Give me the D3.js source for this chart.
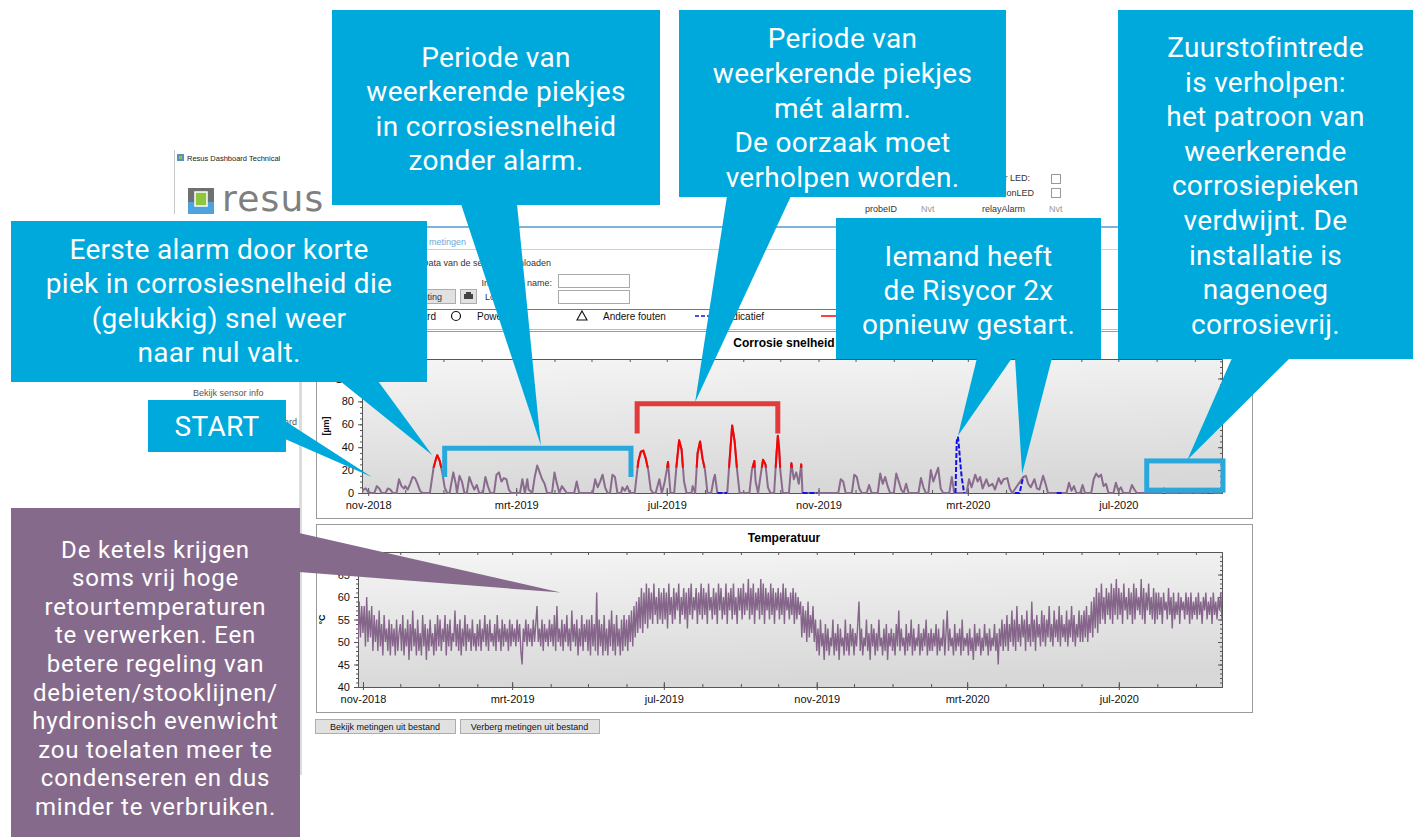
<!DOCTYPE html>
<html><head><meta charset="utf-8">
<script src="https://cdn.jsdelivr.net/npm/d3@7"></script>
<style>
body{margin:0;background:#fff;overflow:hidden}
svg{display:block}
</style>
</head><body>
<svg id="c" width="1421" height="838"></svg>
<script>
// ---------------- DATA ----------------
const xTickDates = ["2018-11-01","2019-03-01","2019-07-01","2019-11-01","2020-03-01","2020-07-01"];
const corrDomain = ["2018-10-27","2020-09-23"];
const tempDomain = ["2018-10-28","2020-09-22"];
const corrTicks = [0,20,40,60,80,100];
const tempTicks = [40,45,50,55,60,65];

// corrosion rate [date, value]
const corrosie = [
["2018-10-27",0],["2018-10-28",3],["2018-10-30",4],["2018-11-01",1],["2018-11-03",0],
["2018-11-06",0],["2018-11-08",6],["2018-11-10",4],["2018-11-12",0],
["2018-11-15",0],["2018-11-17",4],["2018-11-19",3],["2018-11-21",0],
["2018-11-24",0],["2018-11-26",12],["2018-11-28",6],["2018-11-30",4],["2018-12-01",6],["2018-12-03",3],["2018-12-05",8],["2018-12-07",14],["2018-12-09",13],["2018-12-11",8],["2018-12-13",2],["2018-12-15",0],
["2018-12-21",0],["2018-12-24",22],["2018-12-26",30],["2018-12-27",33],["2018-12-29",28],["2018-12-31",18],["2019-01-02",5],["2019-01-04",0],
["2019-01-06",0],["2019-01-09",18],["2019-01-11",8],["2019-01-12",0],["2019-01-14",15],["2019-01-16",10],["2019-01-18",0],
["2019-01-20",0],["2019-01-22",14],["2019-01-24",8],["2019-01-26",3],["2019-01-28",7],["2019-01-30",0],
["2019-02-02",0],["2019-02-04",14],["2019-02-06",6],["2019-02-08",0],
["2019-02-11",0],["2019-02-13",16],["2019-02-15",18],["2019-02-17",10],["2019-02-19",13],["2019-02-21",12],["2019-02-23",3],["2019-02-25",0],
["2019-03-04",0],["2019-03-06",12],["2019-03-08",0],["2019-03-10",12],["2019-03-11",3],["2019-03-14",0],["2019-03-16",14],["2019-03-18",24],["2019-03-20",18],["2019-03-22",12],["2019-03-24",8],["2019-03-26",0],
["2019-03-30",0],["2019-04-01",18],["2019-04-03",8],["2019-04-05",0],["2019-04-07",6],["2019-04-09",3],["2019-04-11",0],
["2019-04-17",0],["2019-04-19",10],["2019-04-21",0],
["2019-05-02",0],["2019-05-04",12],["2019-05-06",5],["2019-05-08",10],["2019-05-10",16],["2019-05-12",5],["2019-05-14",0],
["2019-05-16",0],["2019-05-18",16],["2019-05-20",14],["2019-05-22",0],
["2019-05-25",0],["2019-05-26",5],["2019-05-28",2],["2019-05-30",6],["2019-06-01",0],
["2019-06-05",0],["2019-06-08",28],["2019-06-10",36],["2019-06-12",37],["2019-06-14",30],["2019-06-16",20],["2019-06-18",3],["2019-06-20",0],
["2019-06-22",0],["2019-06-25",12],["2019-06-27",0],["2019-06-29",8],["2019-07-01",20],["2019-07-02",27],["2019-07-04",0],
["2019-07-07",0],["2019-07-09",25],["2019-07-11",46],["2019-07-13",38],["2019-07-15",10],["2019-07-17",0],
["2019-07-21",0],["2019-07-22",6],["2019-07-24",0],["2019-07-26",35],["2019-07-28",45],["2019-07-30",30],["2019-08-01",20],["2019-08-03",0],
["2019-08-06",0],["2019-08-08",12],["2019-08-09",16],["2019-08-11",0],
["2019-08-19",0],["2019-08-21",30],["2019-08-23",59],["2019-08-25",45],["2019-08-27",20],["2019-08-29",0],
["2019-09-06",0],["2019-09-08",20],["2019-09-10",28],["2019-09-11",10],["2019-09-13",0],["2019-09-15",15],["2019-09-17",29],["2019-09-19",25],["2019-09-21",5],["2019-09-23",0],
["2019-09-26",0],["2019-09-28",35],["2019-09-29",50],["2019-09-30",40],["2019-10-01",20],["2019-10-03",0],
["2019-10-08",0],["2019-10-10",26],["2019-10-12",12],["2019-10-14",18],["2019-10-16",8],["2019-10-18",25],["2019-10-19",0],
["2019-11-17",0],["2019-11-19",12],["2019-11-21",10],["2019-11-23",0],
["2019-11-28",0],["2019-11-30",16],["2019-12-02",14],["2019-12-04",4],["2019-12-06",0],
["2019-12-10",0],["2019-12-12",7],["2019-12-14",0],
["2019-12-19",0],["2019-12-21",17],["2019-12-23",8],["2019-12-25",14],["2019-12-27",6],["2019-12-29",0],
["2020-01-01",0],["2020-01-03",17],["2020-01-05",10],["2020-01-07",3],["2020-01-09",0],["2020-01-11",8],["2020-01-13",0],
["2020-01-21",0],["2020-01-23",13],["2020-01-25",5],["2020-01-27",0],
["2020-01-29",0],["2020-01-31",20],["2020-02-02",10],["2020-02-04",16],["2020-02-06",22],["2020-02-08",4],["2020-02-10",0],
["2020-02-15",0],["2020-02-17",14],["2020-02-19",0],
["2020-02-29",0],["2020-03-02",12],["2020-03-04",5],["2020-03-07",16],["2020-03-09",10],["2020-03-11",14],["2020-03-13",4],["2020-03-16",12],["2020-03-18",6],["2020-03-21",8],["2020-03-23",3],["2020-03-26",13],["2020-03-28",8],["2020-03-30",12],["2020-04-02",13],["2020-04-04",4],["2020-04-06",0],
["2020-04-15",14],["2020-04-17",15],["2020-04-19",8],["2020-04-21",5],["2020-04-24",12],["2020-04-26",4],["2020-04-28",3],["2020-05-01",15],["2020-05-03",8],["2020-05-05",0],
["2020-05-20",0],["2020-05-22",9],["2020-05-24",2],["2020-05-26",6],["2020-05-28",0],
["2020-05-31",0],["2020-06-02",7],["2020-06-04",0],
["2020-06-09",0],["2020-06-11",12],["2020-06-13",17],["2020-06-15",14],["2020-06-17",16],["2020-06-19",6],["2020-06-21",8],["2020-06-23",0],
["2020-06-27",0],["2020-06-29",9],["2020-07-01",2],["2020-07-03",5],["2020-07-05",0],
["2020-07-10",0],["2020-07-12",7],["2020-07-14",3],["2020-07-16",0],
["2020-08-05",0],["2020-08-07",4],["2020-08-09",0],
["2020-08-18",0],["2020-08-19",1],["2020-08-21",0],
["2020-08-29",0],["2020-08-30",1],["2020-09-01",0],
["2020-09-06",0],["2020-09-07",1],["2020-09-09",0],["2020-09-13",1],["2020-09-15",2],["2020-09-17",0],["2020-09-23",0]
];

// alarm periods (red) and alarm level
const alarmPeriods = [["2018-12-20","2019-01-03"],["2019-06-01","2019-10-20"]];
const alarmLevel = 22;

// indicative (blue dashed) segments
const indicatief = [
  [["2019-08-11",0],["2019-08-19",0]],
  [["2019-10-19",0],["2019-10-31",0]],
  [["2020-02-20",0],["2020-02-21",45],["2020-02-22",49],["2020-02-23",38],["2020-02-24",25],["2020-02-25",14],["2020-02-27",0]],
  [["2020-04-08",0],["2020-04-12",0],["2020-04-14",10],["2020-04-15",14]],
  [["2020-05-12",0],["2020-05-17",0]]
];

// temperature, one reading per day from tempStart
const tempStart = "2018-10-27";
const tempStepDays = 1;
const temperatuur = [
57,50,59,51,58,
52,58,49,60,50,57,51,58,48,56,50,55,48,57,49,54,47,56,50,53,48,55,47,54,49,53,47,55,48,52,
54,48,56,47,53,49,55,46,54,48,57,49,53,47,55,48,52,47,56,49,54,46,53,48,55,49,52,47,54,48,56,
49,55,48,53,50,56,47,54,49,55,48,52,50,57,49,54,48,55,47,53,49,56,48,54,50,53,48,55,49,52,48,
54,49,55,48,53,50,56,49,54,48,55,50,52,49,54,48,56,50,53,48,55,49,54,50,53,48,55,49,
54,50,53,49,55,50,54,48,45,53,50,55,49,54,50,53,49,55,50,54,58,50,53,49,55,48,54,50,53,49,55,
50,54,49,56,48,58,50,53,49,55,48,54,50,56,49,53,48,57,50,54,49,55,47,53,49,56,48,54,50,55,
48,55,47,56,49,54,48,61,47,55,49,54,47,56,48,53,47,55,49,57,48,54,47,56,49,53,47,55,48,56,49,
55,48,56,50,57,49,58,51,59,52,60,53,62,52,61,54,63,53,62,55,61,54,63,56,60,54,62,55,61,54,
62,55,61,53,63,56,60,54,62,55,61,57,63,54,60,56,62,55,61,53,62,56,63,55,60,57,62,54,61,56,63,
55,62,56,61,54,63,57,60,55,62,56,61,54,63,57,62,55,60,56,63,54,61,57,62,55,63,56,60,54,62,57,
62,55,63,56,61,57,64,55,62,56,63,54,61,57,62,55,64,56,63,54,62,57,61,55,63,56,62,54,61,57,
62,55,61,56,63,54,62,57,60,55,61,56,62,54,61,55,60,56,59,51,58,52,57,50,59,51,56,52,58,50,55,
48,53,47,55,49,52,46,54,48,53,47,51,49,55,47,52,48,54,46,53,49,51,47,55,48,52,47,54,49,53,
47,52,49,54,59,48,53,47,51,49,55,48,52,46,54,49,53,47,52,48,55,49,51,47,53,48,54,46,52,49,53,
48,52,47,54,49,57,48,53,49,51,47,54,48,52,49,55,47,53,48,51,49,54,47,52,48,53,49,55,47,52,48,
53,48,52,49,54,47,53,48,51,49,55,47,52,57,48,53,49,51,47,54,48,52,49,53,47,55,48,51,49,
52,47,53,48,51,46,54,48,52,49,53,47,51,48,54,49,52,47,53,48,51,49,54,48,52,45,53,49,55,48,54,
49,56,48,54,50,57,49,55,48,58,50,54,49,56,51,55,48,57,50,54,49,59,50,55,48,56,51,54,49,57,
50,56,49,55,51,58,50,54,49,57,51,55,50,58,49,56,51,54,50,57,49,55,51,58,50,56,49,54,51,57,50,
56,50,57,51,58,50,56,52,59,51,60,53,62,52,61,54,63,55,60,54,62,56,61,55,63,54,62,56,64,55,
62,56,61,54,63,57,60,55,62,56,61,54,63,55,62,57,60,56,64,55,62,54,61,57,63,56,60,55,62,54,61,
55,61,56,60,54,61,57,59,55,62,56,60,53,61,55,59,56,61,54,60,57,59,55,61,56,60,54,61,55,59,56,
60,55,61,56,59,54,60,57,61,55,59,56,60,54,61,56,59,55,60,57,61,55,60
];

// ---------------- SETUP ----------------
const svg = d3.select("#c");
const parse = d3.timeParse("%Y-%m-%d");
const nl = d3.timeFormatLocale({dateTime:"%a %e %B %Y %X",date:"%d-%m-%Y",time:"%H:%M:%S",periods:["",""],
  days:["zondag","maandag","dinsdag","woensdag","donderdag","vrijdag","zaterdag"],shortDays:["zo","ma","di","wo","do","vr","za"],
  months:["januari","februari","maart","april","mei","juni","juli","augustus","september","oktober","november","december"],
  shortMonths:["jan","feb","mrt","apr","mei","jun","jul","aug","sep","okt","nov","dec"]});
const fmt = nl.format("%b-%Y");
const UI = "'Liberation Sans', Arial, sans-serif";
const CALL = "Roboto, 'Open Sans', sans-serif";
const CYAN = "#00a9dc";
const PURPLE = "#866a8b";

const defs = svg.append("defs");
const grad = defs.append("linearGradient").attr("id","plotbg").attr("x1",0).attr("y1",0).attr("x2",0.15).attr("y2",1);
grad.append("stop").attr("offset","0%").attr("stop-color","#f5f5f5");
grad.append("stop").attr("offset","100%").attr("stop-color","#d8d8d8");

function txt(g, x, y, s, o={}) {
  return g.append("text").attr("x",x).attr("y",y).text(s)
    .attr("font-family",o.ff||UI).attr("font-size",o.fs||9).attr("fill",o.fill||"#333")
    .attr("text-anchor",o.anchor||"start").attr("font-weight",o.fw||"normal");
}

// ---------------- SCREENSHOT BACKGROUND ----------------
const bg = svg.append("g");
bg.append("line").attr("x1",174.5).attr("x2",174.5).attr("y1",150).attr("y2",214).attr("stroke","#c8c8c8");
bg.append("rect").attr("x",177).attr("y",154).attr("width",7).attr("height",7).attr("fill","#5a8fc0");
bg.append("rect").attr("x",179).attr("y",156).attr("width",3).attr("height",3).attr("fill","#8dc63f");
txt(bg,187,161,"Resus Dashboard Technical",{fs:7.5,fill:"#222"});
// logo
bg.append("rect").attr("x",188).attr("y",188).attr("width",26).attr("height",14).attr("fill","#6f7072");
bg.append("rect").attr("x",188).attr("y",202).attr("width",26).attr("height",12).attr("fill","#4fa3dc");
bg.append("rect").attr("x",195).attr("y",192).attr("width",12).attr("height",14).attr("fill","#8dc63f").attr("stroke","#fff").attr("stroke-width",1.5);
txt(bg,222,211,"resus",{fs:36,fill:"#7f7f7f",ff:"'DejaVu Sans', sans-serif"}).attr("letter-spacing",1.2);

// top-right status
txt(bg,1030,181,"Power LED:",{anchor:"end",fs:9});
txt(bg,1034,196,"ConnectionLED",{anchor:"end",fs:9});
bg.append("rect").attr("x",1051.5).attr("y",174.5).attr("width",9).attr("height",9).attr("fill","#fff").attr("stroke","#999");
bg.append("rect").attr("x",1051.5).attr("y",188.5).attr("width",9).attr("height",9).attr("fill","#fff").attr("stroke","#999");
txt(bg,865,212,"probeID",{fs:9});
txt(bg,921,212,"Nvt",{fs:9,fill:"#999"});
txt(bg,982,212,"relayAlarm",{fs:9});
txt(bg,1049,212,"Nvt",{fs:9,fill:"#999"});

// header lines
bg.append("line").attr("x1",300).attr("x2",1118).attr("y1",227).attr("y2",227).attr("stroke","#7fb2dc").attr("stroke-width",2);
txt(bg,466,245,"Over metingen",{anchor:"end",fs:9,fill:"#6aa9da"});
bg.append("line").attr("x1",300).attr("x2",1118).attr("y1",249.5).attr("y2",249.5).attr("stroke","#d0d0d0");
txt(bg,551,266,"Data van de sensor downloaden",{anchor:"end",fs:9});
txt(bg,552,286,"Installation name:",{anchor:"end",fs:9});
txt(bg,485,300,"Locatie:",{fs:9});
bg.append("rect").attr("x",558.5).attr("y",274.5).attr("width",71).attr("height",13).attr("fill","#fff").attr("stroke","#aaa");
bg.append("rect").attr("x",558.5).attr("y",290.5).attr("width",71).attr("height",13).attr("fill","#fff").attr("stroke","#aaa");
bg.append("rect").attr("x",405.5).attr("y",289.5).attr("width",50).attr("height",14).attr("fill","#e1e1e1").attr("stroke","#adadad");
txt(bg,442,300,"Printing",{anchor:"end",fs:9});
bg.append("rect").attr("x",460.5).attr("y",289.5).attr("width",16).attr("height",14).attr("fill","#e1e1e1").attr("stroke","#adadad");
bg.append("rect").attr("x",464).attr("y",294).attr("width",9).attr("height",5).attr("fill","#444");
bg.append("rect").attr("x",466).attr("y",292).attr("width",5).attr("height",2).attr("fill","#444");
// legend bar
bg.append("line").attr("x1",300).attr("x2",1118).attr("y1",309.5).attr("y2",309.5).attr("stroke","#777");
bg.append("line").attr("x1",300).attr("x2",1118).attr("y1",329.5).attr("y2",329.5).attr("stroke","#bbb");
txt(bg,436,320,"Standaard",{anchor:"end",fs:10,fill:"#111"});
bg.append("circle").attr("cx",456).attr("cy",316).attr("r",4.5).attr("fill","none").attr("stroke","#111").attr("stroke-width",1.2);
txt(bg,477,320,"Power uit",{fs:10,fill:"#111"});
bg.append("path").attr("d","M582,311 L587,320 L577,320 Z").attr("fill","none").attr("stroke","#111").attr("stroke-width",1.1);
txt(bg,603,320,"Andere fouten",{fs:10,fill:"#111"});
bg.append("line").attr("x1",695).attr("x2",719).attr("y1",316).attr("y2",316).attr("stroke","#1515e0").attr("stroke-width",1.5).attr("stroke-dasharray","4,2");
txt(bg,724,320,"Indicatief",{fs:10,fill:"#111"});
bg.append("line").attr("x1",821).attr("x2",840).attr("y1",316).attr("y2",316).attr("stroke","#f00").attr("stroke-width",1.5);
// left side
bg.append("rect").attr("x",299).attr("y",335).attr("width",3).attr("height",440).attr("fill","#dcdcdc");
txt(bg,193,396,"Bekijk sensor info",{fs:9,fill:"#555"});
txt(bg,297,425,"Board",{anchor:"end",fs:9,fill:"#555"});
// buttons
[["Bekijk metingen uit bestand",315,140],["Verberg metingen uit bestand",460,139]].forEach(([s,x,w])=>{
  bg.append("rect").attr("x",x+0.5).attr("y",719.5).attr("width",w).attr("height",14).attr("fill","#e1e1e1").attr("stroke","#adadad");
  txt(bg,x+w/2,730,s,{anchor:"middle",fs:9,fill:"#111"});
});

// ---------------- CHARTS ----------------
const months = (dom) => d3.timeMonth.range(d3.timeMonth.ceil(dom[0]), dom[1]);
function styleAxis(g){
  g.selectAll("path.domain").attr("stroke","#555");
  g.selectAll(".tick line").attr("stroke","#555");
  g.selectAll("text").attr("font-family",UI).attr("font-size",11).attr("fill","#111");
}
function chart(p){
  const xd = p.xDomain.map(parse);
  const x = d3.scaleTime().domain(xd).range([p.l,p.r]);
  const y = d3.scaleLinear().domain(p.yDomain).range([p.b,p.t]);
  const g = svg.append("g");
  g.append("rect").attr("x",p.px+0.5).attr("y",p.py+0.5).attr("width",p.pw).attr("height",p.ph).attr("fill","#fff").attr("stroke","#9a9a9a");
  g.append("rect").attr("x",p.l).attr("y",p.t).attr("width",p.r-p.l).attr("height",p.b-p.t).attr("fill","url(#plotbg)");
  txt(g,(p.px+p.px+p.pw)/2,p.titleY,p.title,{anchor:"middle",fs:12,fw:"bold",fill:"#000"});
  const mons = months(xd);
  const major = xTickDates.map(parse);
  const yMinor = d3.range(p.yDomain[0],p.yDomain[1]+0.001,p.yMinorStep);
  styleAxis(g.append("g").attr("transform",`translate(0,${p.b})`).call(d3.axisBottom(x).tickValues(major).tickFormat(fmt).tickSizeInner(3).tickSizeOuter(0).tickPadding(5)));
  styleAxis(g.append("g").attr("transform",`translate(0,${p.b})`).call(d3.axisBottom(x).tickValues(major).tickFormat("").tickSizeInner(-5).tickSizeOuter(0)));
  styleAxis(g.append("g").attr("transform",`translate(0,${p.b})`).call(d3.axisBottom(x).tickValues(mons).tickFormat("").tickSizeInner(-3).tickSizeOuter(0)));
  styleAxis(g.append("g").attr("transform",`translate(0,${p.t})`).call(d3.axisTop(x).tickValues(mons).tickFormat("").tickSizeInner(-3).tickSizeOuter(0)));
  styleAxis(g.append("g").attr("transform",`translate(${p.l},0)`).call(d3.axisLeft(y).tickValues(p.yTicks).tickSizeInner(4).tickSizeOuter(0).tickPadding(4)));
  styleAxis(g.append("g").attr("transform",`translate(${p.l},0)`).call(d3.axisLeft(y).tickValues(yMinor).tickFormat("").tickSizeInner(2).tickSizeOuter(0)));
  styleAxis(g.append("g").attr("transform",`translate(${p.r},0)`).call(d3.axisRight(y).tickValues(p.yTicks).tickFormat("").tickSizeInner(-4).tickSizeOuter(0)));
  styleAxis(g.append("g").attr("transform",`translate(${p.r},0)`).call(d3.axisRight(y).tickValues(yMinor).tickFormat("").tickSizeInner(-2).tickSizeOuter(0)));
  g.append("text").attr("transform",`translate(${p.l-33},${(p.t+p.b)/2}) rotate(-90)`).attr("text-anchor","middle")
    .attr("font-family",UI).attr("font-size",9).attr("font-weight","bold").attr("fill","#111").text(p.ylabel);
  const clipId = "clip"+p.id;
  defs.append("clipPath").attr("id",clipId).append("rect").attr("x",p.l).attr("y",p.t).attr("width",p.r-p.l).attr("height",p.b-p.t+1);
  const plot = g.append("g").attr("clip-path",`url(#${clipId})`);
  return {x,y,g,plot};
}

// corrosion chart
const C = chart({id:"c",px:316,py:331,pw:936,ph:187,l:362,r:1222,t:359,b:493,xDomain:corrDomain,yDomain:[0,117],
  yTicks:corrTicks,yMinorStep:5,title:"Corrosie snelheid",titleY:347,ylabel:"[µm]"});
const corrPts = corrosie.map(([d,v])=>({date:parse(d),v}));
const cLine = d3.line().x(d=>C.x(d.date)).y(d=>C.y(d.v));
C.plot.append("path").attr("d",cLine(corrPts)).attr("fill","none").attr("stroke","#8a6b8e").attr("stroke-width",2).attr("stroke-linejoin","round");
const alarmClip = defs.append("clipPath").attr("id","alarmclip");
alarmPeriods.forEach(([a,b])=>{
  alarmClip.append("rect").attr("x",C.x(parse(a))).attr("width",C.x(parse(b))-C.x(parse(a)))
    .attr("y",C.y(117)).attr("height",C.y(alarmLevel)-C.y(117));
});
C.plot.append("g").attr("clip-path","url(#alarmclip)").append("path").attr("d",cLine(corrPts))
  .attr("fill","none").attr("stroke","#ff0000").attr("stroke-width",2).attr("stroke-linejoin","round");
indicatief.forEach(seg=>{
  C.plot.append("path").attr("d",cLine(seg.map(([d,v])=>({date:parse(d),v}))))
    .attr("fill","none").attr("stroke","#1010e8").attr("stroke-width",2).attr("stroke-dasharray","5,2");
});

// temperature chart
const T = chart({id:"t",px:316,py:524,pw:936,ph:188,l:358,r:1222,t:552,b:687,xDomain:tempDomain,yDomain:[40,70],
  yTicks:tempTicks,yMinorStep:1,title:"Temperatuur",titleY:542,ylabel:"°C"});
const t0 = parse(tempStart);
const tempPts = temperatuur.map((v,i)=>({date:d3.timeDay.offset(t0,i*tempStepDays),v}));
T.plot.append("path").attr("d",d3.line().x(d=>T.x(d.date)).y(d=>T.y(d.v))(tempPts))
  .attr("fill","none").attr("stroke","#85668a").attr("stroke-width",1.4).attr("stroke-linejoin","miter");

// ---------------- ANNOTATIONS ----------------
const ann = svg.append("g");
function bracket(x0d,x1d,topV,botV,color){
  const xa=C.x(parse(x0d)), xb=C.x(parse(x1d)), yt=C.y(topV), yb=C.y(botV);
  ann.append("path").attr("d",`M${xa},${yb} L${xa},${yt} L${xb},${yt} L${xb},${yb}`)
    .attr("fill","none").attr("stroke",color).attr("stroke-width",5);
}
bracket("2019-01-02","2019-06-02",39,14,"#2aa8dc");
bracket("2019-06-07","2019-09-29",78,52,"#e23b3b");
{
  const xa=C.x(parse("2020-07-24")), xb=C.x(parse("2020-09-23"))+1, yt=C.y(28), yb=C.y(2.5);
  ann.append("rect").attr("x",xa).attr("y",yt).attr("width",xb-xa).attr("height",yb-yt).attr("fill","none").attr("stroke","#2aa8dc").attr("stroke-width",5);
}

function pointer(base, tip, color){
  ann.append("path").attr("d",`M${base[0][0]},${base[0][1]} L${tip[0]},${tip[1]} L${base[1][0]},${base[1][1]} Z`).attr("fill",color);
}
const cTip = (d,v)=>[C.x(parse(d)),C.y(v)];
const tTip = (d,v)=>[T.x(parse(d)),T.y(v)];
pointer([[340,381],[378,381]], cTip("2018-12-23",33), CYAN);
pointer([[285,421],[285,439]], cTip("2018-11-04",14), CYAN);
pointer([[461,204],[517,204]], cTip("2019-03-21",41.5), CYAN);
pointer([[727,196],[791,196]], cTip("2019-07-24",79.5), CYAN);
pointer([[977,358],[1012,358]], cTip("2020-02-22",50), CYAN);
pointer([[1015,358],[1052,358]], cTip("2020-04-14",16.5), CYAN);
pointer([[1232,358],[1290,358]], cTip("2020-08-26",29), CYAN);
pointer([[299,533],[299,572]], tTip("2019-04-09",61), PURPLE);

function callout(x,y,w,h,color,lines,cy0,dy,fs,ls){
  ann.append("rect").attr("x",x).attr("y",y).attr("width",w).attr("height",h).attr("fill",color);
  lines.forEach((s,i)=>{
    ann.append("text").attr("x",x+w/2).attr("y",cy0+i*dy+fs*0.36).attr("text-anchor","middle")
      .attr("font-family",CALL).attr("font-size",fs).attr("letter-spacing",ls||0).attr("fill","#fff").text(s);
  });
}
callout(332,10,328,195,CYAN,["Periode van","weerkerende piekjes","in corrosiesnelheid","zonder alarm."],57,34.4,28,0.3);
callout(679,10,327,187,CYAN,["Periode van","weerkerende piekjes","mét alarm.","De oorzaak moet","verholpen worden."],38,34.75,28,0.3);
callout(1118,10,295,349,CYAN,["Zuurstofintrede","is verholpen:","het patroon van","weerkerende","corrosiepieken","verdwijnt. De","installatie is","nagenoeg","corrosievrij."],47,34.6,28,0.3);
callout(11,221,416,161,CYAN,["Eerste alarm door korte","piek in corrosiesnelheid die","(gelukkig) snel weer","naar nul valt."],249,34.3,28,0.3);
callout(836,218,265,141,CYAN,["Iemand heeft","de Risycor 2x","opnieuw gestart."],256,34,28,0.3);
callout(148,400,138,52,CYAN,["START"],426,0,28,0.3);
callout(11,508,289,329,PURPLE,["De ketels krijgen","soms vrij hoge","retourtemperaturen","te verwerken. Een","betere regeling van","debieten/stooklijnen/","hydronisch evenwicht","zou toelaten meer te","condenseren en dus","minder te verbruiken."],549,28.6,24,0.8);
</script>
</body></html>
